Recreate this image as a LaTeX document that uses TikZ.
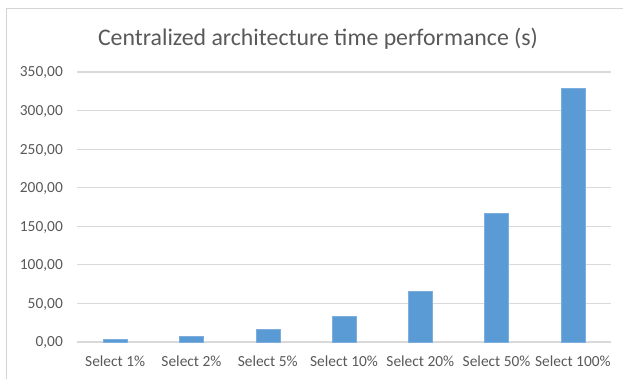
\documentclass[tikz,border=0pt]{standalone}
\usepackage{fontspec}
\setmainfont{Carlito}
\definecolor{barblue}{HTML}{5B9BD5}
\definecolor{gridgray}{HTML}{D9D9D9}
\definecolor{framegray}{HTML}{D4D4D4}
\definecolor{txtgray}{HTML}{595959}
\tikzset{
  gridline/.style={draw=gridgray, line width=1.2pt},
  barbox/.style={fill=barblue, draw=barblue!80!white, line width=0.4pt},
  ylab/.style={anchor=base east, inner sep=0pt, text=txtgray, font=\fontsize{15.4}{18}\selectfont},
  xlab/.style={anchor=base, inner sep=0pt, text=txtgray, font=\fontsize{15.4}{18}\selectfont},
  titletext/.style={anchor=base, inner sep=0pt, text=txtgray, font=\fontsize{23.8}{28}\selectfont}
}
\begin{document}
\begin{tikzpicture}[x=1pt,y=-1pt]
\useasboundingbox (0,0) rectangle (623,378);
\fill[white] (0,0) rectangle (623,378);
\begin{scope}
\clip (0,0) rectangle (623,378);
\draw[framegray, line width=1.5pt] (6.5,8.5) rectangle (640,400);
\end{scope}
\node[titletext] (title) at (318,45.7) {Centralized architecture time performance (s)};
\foreach \v in {0,50,...,350} {
  \draw[gridline] (77,{342-\v*0.7714}) -- (611,{342-\v*0.7714});
  \node[ylab] (y\v) at (63,{342-\v*0.7714+4.9}) {\v,00};
}
\foreach \i/\v/\lab in {0/3.9/1,1/7.4/2,2/16.9/5,3/34.1/10,4/66.1/20,5/166.8/50,6/329/100} {
  \path[barbox] ({77+76.29*(\i+0.5)-12},342) rectangle ({77+76.29*(\i+0.5)+12},{342-\v*0.7714});
  \node[xlab] (x\i) at ({77+76.29*(\i+0.5)},366.3) {Select \lab\%};
}
\end{tikzpicture}
\end{document}
